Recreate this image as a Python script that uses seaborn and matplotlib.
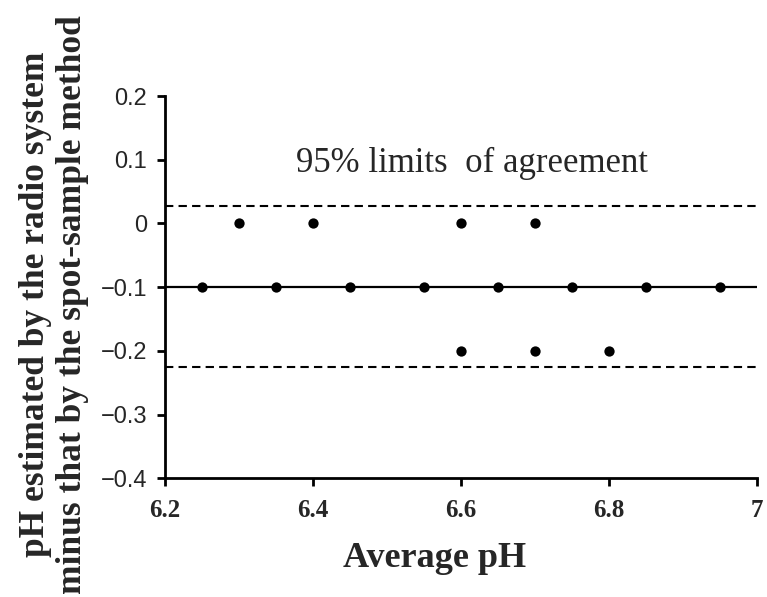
import matplotlib
matplotlib.use("Agg")
import matplotlib.pyplot as plt
import seaborn as sns
import pandas as pd

avg_ph = [6.3, 6.4, 6.6, 6.7,
          6.25, 6.35, 6.45, 6.55, 6.65, 6.75, 6.85, 6.95,
          6.6, 6.7, 6.8]
diff_ph = [0.0, 0.0, 0.0, 0.0,
           -0.1, -0.1, -0.1, -0.1, -0.1, -0.1, -0.1, -0.1,
           -0.2, -0.2, -0.2]
mean_diff = -0.1
upper_loa = 0.027
lower_loa = -0.226
x_ticks = [6.2, 6.4, 6.6, 6.8, 7.0]
x_tick_labels = ["6.2", "6.4", "6.6", "6.8", "7"]
y_ticks = [0.2, 0.1, 0.0, -0.1, -0.2, -0.3, -0.4]
y_tick_labels = ["0.2", "0.1", "0", "\u22120.1", "\u22120.2", "\u22120.3", "\u22120.4"]

df = pd.DataFrame({"avg": avg_ph, "diff": diff_ph})

sns.set_style("white")
fig = plt.figure(figsize=(7.67, 5.97), dpi=100)
ax = fig.add_axes([0.215, 0.199, 0.772, 0.64])

ax.axhline(mean_diff, color="black", lw=1.6, zorder=1)
ax.axhline(upper_loa, color="black", lw=1.5, ls=(0, (4, 2.5)), zorder=1)
ax.axhline(lower_loa, color="black", lw=1.5, ls=(0, (4, 2.5)), zorder=1)

sns.scatterplot(data=df, x="avg", y="diff", ax=ax, color="black", s=55,
                edgecolor="black", linewidth=0, zorder=3, legend=False)

ax.set_xlim(6.2, 7.0)
ax.set_ylim(-0.4, 0.2)
ax.set_xticks(x_ticks)
ax.set_xticklabels(x_tick_labels, family="Liberation Serif", fontweight="bold", fontsize=18)
ax.set_yticks(y_ticks)
ax.set_yticklabels(y_tick_labels, family="Liberation Sans", fontsize=17)

for s in ["top", "right"]:
    ax.spines[s].set_visible(False)
for s in ["left", "bottom"]:
    ax.spines[s].set_color("black")
    ax.spines[s].set_linewidth(2)

ax.tick_params(axis="both", direction="out", length=6, width=2, color="black", left=True, bottom=True)
ax.tick_params(axis="y", pad=7)
ax.tick_params(axis="x", pad=9)

ax.set_xlabel("Average pH", family="Liberation Serif", fontweight="bold", fontsize=26)
ax.xaxis.set_label_coords(0.455, -0.168)
ax.set_ylabel("pH estimated by the radio system\nminus that by the spot-sample method",
              family="Liberation Serif", fontweight="bold", fontsize=25.5,
              linespacing=1.15)
ax.yaxis.set_label_coords(-0.128, 0.455)

ax.text(6.615, 0.095, "95% limits  of agreement", family="Liberation Serif", fontsize=25,
        ha="center", va="center")

fig.savefig("out.png", dpi=100)
